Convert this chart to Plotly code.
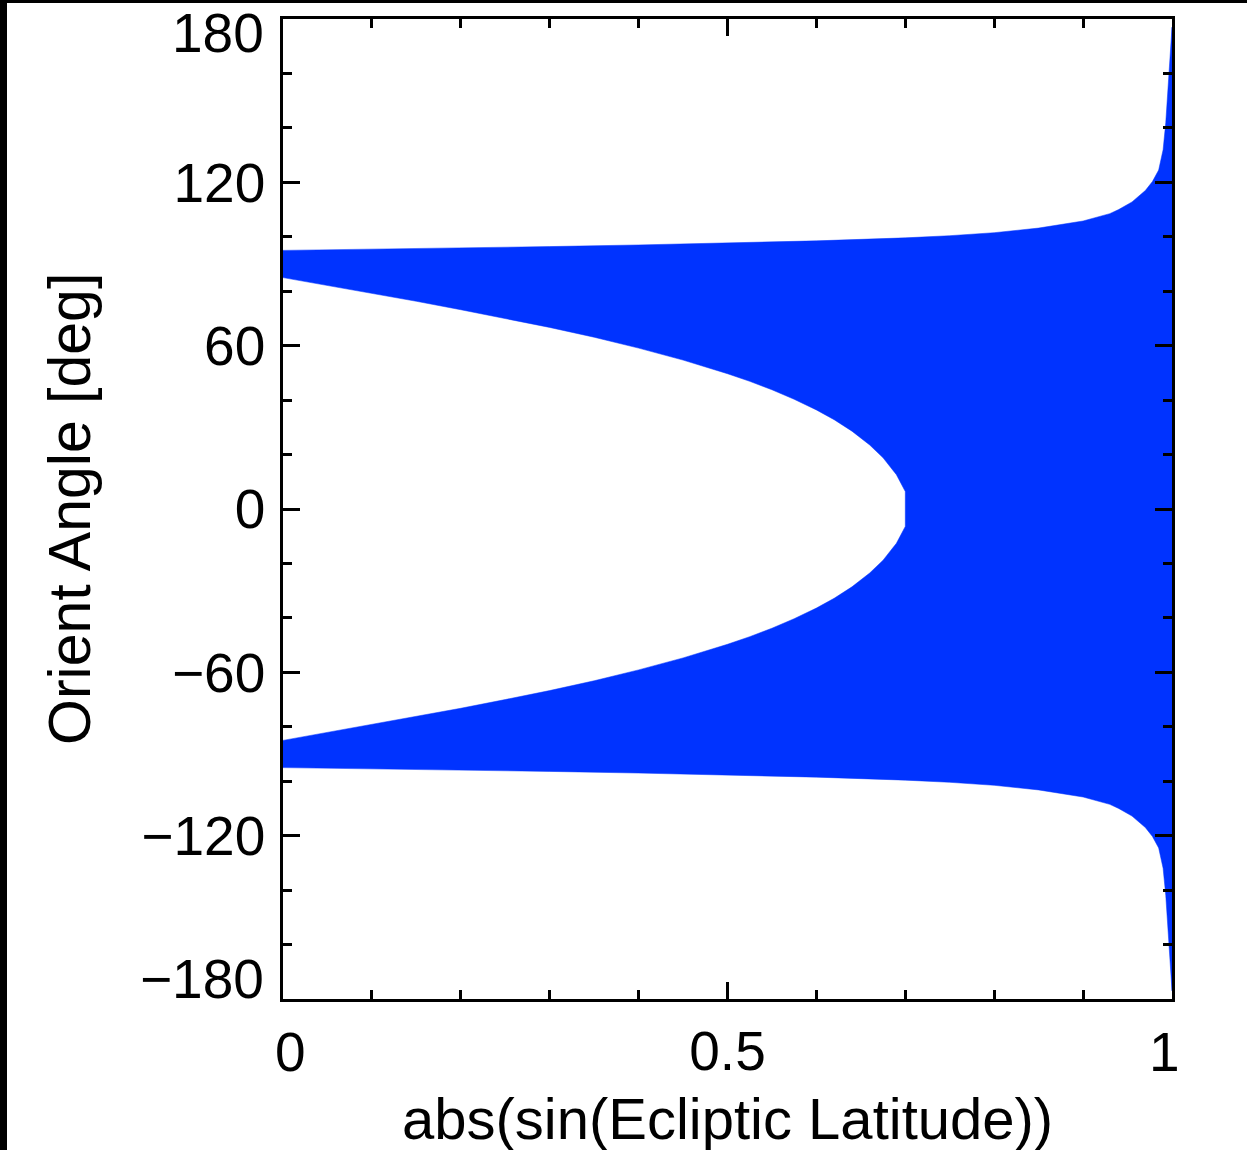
import plotly.graph_objects as go

# ---- data ----
# outer (upper) boundary of the allowed band; lower band mirrors it
outer_x = [0.0, 0.1, 0.2, 0.3, 0.4, 0.5, 0.6, 0.7, 0.75, 0.8, 0.85, 0.9,
           0.93, 0.94, 0.955, 0.97, 0.978, 0.985, 0.99, 0.993, 0.996, 0.999, 1.0]
outer_top = [95.0, 95.4, 95.9, 96.4, 97.0, 97.7, 98.5, 99.6, 100.4, 101.5, 103.2, 105.8,
             108.5, 110.0, 112.8, 117.0, 120.3, 124.5, 132.0, 142.0, 157.0, 172.0, 177.0]
# inner (upper) boundary, ends at the notch near x = 0.70
inner_x = [0.0, 0.05, 0.1, 0.15, 0.2, 0.25, 0.3, 0.35, 0.4, 0.45, 0.475, 0.5, 0.525,
           0.55, 0.575, 0.6, 0.62, 0.64, 0.66, 0.675, 0.69, 0.70]
inner_top = [85.0, 82.1, 79.2, 76.3, 73.2, 70.0, 66.7, 63.1, 59.1, 54.7, 52.3, 49.7, 46.9,
             43.8, 40.3, 36.4, 32.8, 28.6, 23.5, 18.8, 12.6, 6.4]

x_ticks = [0, 0.5, 1]
x_tick_text = ["0", "0.5", "1"]
y_ticks = [-180, -120, -60, 0, 60, 120, 180]
y_tick_text = ["\u2212180", "\u2212120", "\u221260", "0", "60", "120", "180"]

# polygon: outer top -> outer bottom (back) -> inner bottom -> inner top (back)
poly_x = outer_x + outer_x[::-1] + inner_x + inner_x[::-1] + [outer_x[0]]
poly_y = (outer_top + [-v for v in outer_top[::-1]] + [-v for v in inner_top]
          + inner_top[::-1] + [outer_top[0]])

BLUE = "#0033ff"
FONT = "Liberation Sans, Arial, Helvetica, sans-serif"
TICK_SIZE = 55

fig = go.Figure()
fig.add_trace(go.Scatter(x=poly_x, y=poly_y, mode="lines", fill="toself",
                         fillcolor=BLUE, line=dict(color=BLUE, width=0.5),
                         hoverinfo="skip", showlegend=False))

W, H = 1247, 1150
L, R, T, B = 283, 75, 19, 151
pw, ph = W - L - R, H - T - B

def px_to_paper_x(px):
    return (px - L) / pw

def py_to_paper_y(py):
    return (H - B - py) / ph

# end labels are nudged inward (as in the reference), so they are drawn as annotations
x_axis_text = ["" if i in (0, len(x_ticks) - 1) else t for i, t in enumerate(x_tick_text)]
y_axis_text = ["" if i in (0, len(y_ticks) - 1) else t for i, t in enumerate(y_tick_text)]

axis_common = dict(showgrid=False, zeroline=False, showline=True, linecolor="black",
                   linewidth=2.5, ticks="inside", tickcolor="black", tickwidth=2.5,
                   ticklen=17, mirror="ticks", ticklabeloverflow="allow", automargin=False,
                   tickfont=dict(family=FONT, size=TICK_SIZE, color="black"))

fig.update_xaxes(range=[0, 1], tickvals=x_ticks, ticktext=x_axis_text,
                 ticklabelstandoff=2,
                 minor=dict(dtick=0.1, ticks="inside", ticklen=9, tickwidth=2.5,
                            tickcolor="black", showgrid=False),
                 **axis_common)
fig.update_yaxes(range=[-180, 180], tickvals=y_ticks, ticktext=y_axis_text,
                 ticklabelstandoff=4,
                 minor=dict(dtick=20, ticks="inside", ticklen=9, tickwidth=2.5,
                            tickcolor="black", showgrid=False),
                 **axis_common)

tick_font = dict(family=FONT, size=TICK_SIZE, color="black")
annotations = [
    # x end labels
    dict(text=x_tick_text[0], xref="paper", yref="paper", x=px_to_paper_x(290),
         y=py_to_paper_y(1052), xanchor="center", yanchor="middle", showarrow=False,
         font=tick_font),
    dict(text=x_tick_text[-1], xref="paper", yref="paper", x=px_to_paper_x(1164),
         y=py_to_paper_y(1052), xanchor="center", yanchor="middle", showarrow=False,
         font=tick_font),
    # y end labels
    dict(text=y_tick_text[-1], xref="paper", yref="paper", x=px_to_paper_x(266),
         y=py_to_paper_y(33), xanchor="right", yanchor="middle", showarrow=False,
         font=tick_font),
    dict(text=y_tick_text[0], xref="paper", yref="paper", x=px_to_paper_x(266),
         y=py_to_paper_y(979), xanchor="right", yanchor="middle", showarrow=False,
         font=tick_font),
    # axis titles
    dict(text="abs(sin(Ecliptic Latitude))", xref="paper", yref="paper",
         x=px_to_paper_x(727), y=py_to_paper_y(1118), xanchor="center", yanchor="middle",
         showarrow=False, font=dict(family=FONT, size=58, color="black")),
    dict(text="Orient Angle [deg]", xref="paper", yref="paper",
         x=px_to_paper_x(70), y=py_to_paper_y(509), xanchor="center", yanchor="middle",
         textangle=-90, showarrow=False, font=dict(family=FONT, size=59, color="black")),
]

shapes = [
    dict(type="rect", xref="paper", yref="paper", layer="above",
         x0=px_to_paper_x(-2), x1=px_to_paper_x(7), y0=py_to_paper_y(H + 2), y1=py_to_paper_y(-2),
         fillcolor="black", line=dict(width=0)),
    dict(type="rect", xref="paper", yref="paper", layer="above",
         x0=px_to_paper_x(-2), x1=px_to_paper_x(W + 2), y0=py_to_paper_y(3), y1=py_to_paper_y(-2),
         fillcolor="black", line=dict(width=0)),
]

fig.update_layout(width=W, height=H, margin=dict(l=L, r=R, t=T, b=B, pad=0, autoexpand=False),
                  plot_bgcolor="white", paper_bgcolor="white",
                  annotations=annotations, shapes=shapes, showlegend=False)

fig.write_html("out.html", config={"displayModeBar": False},
               post_script="document.body.style.margin='0';document.body.style.overflow='hidden';")
